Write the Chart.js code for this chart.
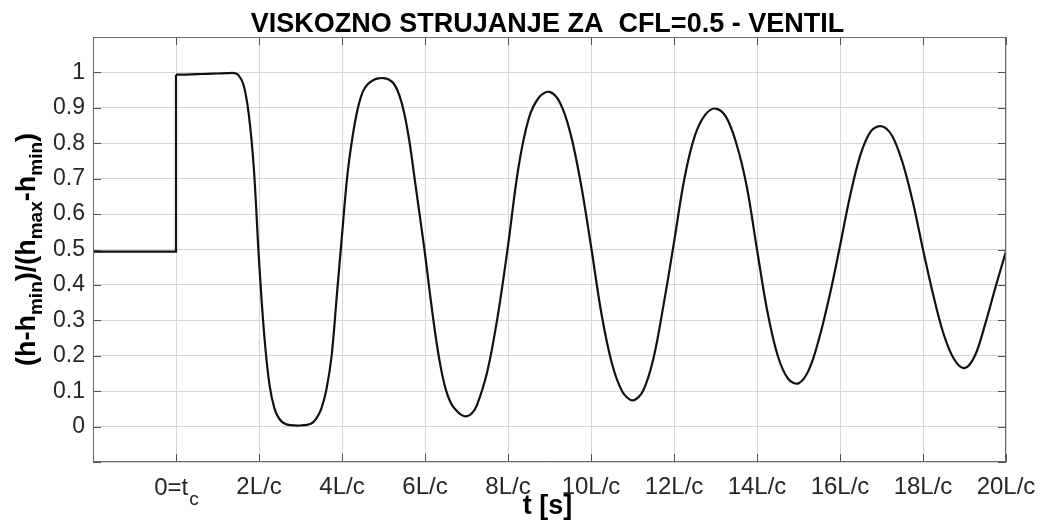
<!DOCTYPE html>
<html>
<head>
<meta charset="utf-8">
<title>Viskozno strujanje - ventil</title>
<script src="https://cdn.jsdelivr.net/npm/chart.js@4.4.1/dist/chart.umd.min.js"></script>
<style>
  html, body { margin: 0; padding: 0; background: #fff; }
</style>
</head>
<body>
<canvas id="graf" width="1040" height="522"></canvas>
<script>
// vrijeme u jedinicama L/c, 0 = trenutak zatvaranja ventila t_c
const tPrije = [-2, 0, 0];
const hPrije = [0.494, 0.494, 0.9935];

const tPoslije = [
  0, 0.25, 0.5, 0.75, 1, 1.25, 1.4, 1.5, 1.625, 1.75,
  1.875, 2, 2.125, 2.25, 2.375, 2.5, 2.625, 2.75, 3, 3.25,
  3.375, 3.5, 3.625, 3.75, 3.875, 4, 4.125, 4.25, 4.375, 4.5,
  4.625, 4.75, 4.875, 5, 5.125, 5.25, 5.375, 5.5, 5.625, 5.75,
  5.875, 6, 6.125, 6.25, 6.375, 6.5, 6.625, 6.75, 6.875, 7,
  7.125, 7.25, 7.5, 7.75, 8, 8.25, 8.5, 8.75, 9, 9.25,
  9.5, 9.75, 10, 10.25, 10.5, 10.75, 11, 11.25, 11.5, 11.75,
  12, 12.25, 12.5, 12.75, 13, 13.25, 13.5, 13.75, 14, 14.25,
  14.5, 14.75, 15, 15.25, 15.5, 15.75, 16, 16.25, 16.5, 16.75,
  17, 17.25, 17.5, 17.75, 18, 18.25, 18.5, 18.75, 19, 19.25,
  19.5, 19.75, 20
];
const hPoslije = [
  0.9935, 0.994, 0.995, 0.996, 0.997, 0.998, 0.998, 0.993, 0.966, 0.885,
  0.73, 0.47, 0.26, 0.12, 0.05, 0.02, 0.008, 0.004, 0.003, 0.008,
  0.022, 0.05, 0.105, 0.2, 0.37, 0.54, 0.705, 0.815, 0.895, 0.945,
  0.967, 0.978, 0.983, 0.984, 0.98, 0.968, 0.938, 0.885, 0.805, 0.7,
  0.595, 0.488, 0.37, 0.26, 0.17, 0.105, 0.066, 0.046, 0.033, 0.029,
  0.037, 0.06, 0.155, 0.31, 0.51, 0.73, 0.87, 0.93, 0.945, 0.915,
  0.83, 0.69, 0.51, 0.32, 0.18, 0.1, 0.074, 0.1, 0.19, 0.345,
  0.52, 0.7, 0.82, 0.88, 0.898, 0.875, 0.8, 0.68, 0.5, 0.325,
  0.2, 0.135, 0.122, 0.16, 0.25, 0.37, 0.51, 0.655, 0.77, 0.835,
  0.848, 0.822, 0.748, 0.637, 0.5, 0.37, 0.26, 0.19, 0.165, 0.2,
  0.29, 0.395, 0.495
];

const xTickVrijednosti = [-2, 0, 2, 4, 6, 8, 10, 12, 14, 16, 18, 20];
const xTickOznake = ['', '', '2L/c', '4L/c', '6L/c', '8L/c', '10L/c', '12L/c', '14L/c', '16L/c', '18L/c', '20L/c'];
const yTickVrijednosti = [-0.1, 0, 0.1, 0.2, 0.3, 0.4, 0.5, 0.6, 0.7, 0.8, 0.9, 1, 1.1];
const yTickOznake = ['', '0', '0.1', '0.2', '0.3', '0.4', '0.5', '0.6', '0.7', '0.8', '0.9', '1', ''];

const naslov = 'VISKOZNO STRUJANJE ZA  CFL=0.5 - VENTIL';
const FONT = '"Liberation Sans", Arial, Helvetica, sans-serif';
const SIVA_MREZA = '#d6d6d6';
const BOJA_TEKSTA = '#262626';

const parovi = (xs, ys) => xs.map((x, i) => ({ x: x, y: ys[i] }));

// okvir, unutarnje crtice, naslov i oznake osi (s indeksima)
const dodaci = {
  id: 'dodaci',
  afterDraw(chart) {
    const { ctx, chartArea: a, scales: { x, y } } = chart;
    ctx.save();

    ctx.strokeStyle = '#505050';
    ctx.lineWidth = 1;
    ctx.beginPath();
    x.ticks.forEach(t => {
      const px = Math.round(x.getPixelForValue(t.value)) + 0.5;
      ctx.moveTo(px, a.bottom); ctx.lineTo(px, a.bottom - 8);
      ctx.moveTo(px, a.top); ctx.lineTo(px, a.top + 8);
    });
    y.ticks.forEach(t => {
      const py = Math.round(y.getPixelForValue(t.value)) + 0.5;
      ctx.moveTo(a.left, py); ctx.lineTo(a.left + 8, py);
      ctx.moveTo(a.right, py); ctx.lineTo(a.right - 8, py);
    });
    ctx.stroke();

    ctx.strokeStyle = '#6a6a6a';
    ctx.strokeRect(Math.round(a.left) + 0.5, Math.round(a.top) + 0.5,
                   Math.round(a.width) - 1, Math.round(a.height) - 1);

    const sredinaX = (a.left + a.right) / 2;
    const sredinaY = (a.top + a.bottom) / 2;

    // naslov
    ctx.fillStyle = '#000';
    ctx.font = 'bold 27px ' + FONT;
    ctx.textAlign = 'center';
    ctx.textBaseline = 'alphabetic';
    ctx.fillText(naslov, sredinaX - 2, 32);

    // oznaka x osi
    ctx.fillText('t [s]', sredinaX - 2, 514);

    // prva oznaka na x osi: 0=t_c
    ctx.fillStyle = BOJA_TEKSTA;
    ctx.textAlign = 'left';
    const px0 = x.getPixelForValue(0);
    ctx.font = '24px ' + FONT;
    const wGlavni = ctx.measureText('0=t').width;
    ctx.font = '19px ' + FONT;
    const wIndeks = ctx.measureText('c').width;
    const lijevo = px0 - (wGlavni + wIndeks) / 2;
    ctx.font = '24px ' + FONT;
    ctx.fillText('0=t', lijevo, 495);
    ctx.font = '19px ' + FONT;
    ctx.fillText('c', lijevo + wGlavni + 1, 505);

    // oznaka y osi: (h-h_min)/(h_max-h_min), zakrenuta
    const dijelovi = [
      ['(h-h', false], ['min', true], [')/(h', false], ['max', true],
      ['-h', false], ['min', true], [')', false]
    ];
    const fGlavni = 'bold 27px ' + FONT;
    const fIndeks = 'bold 19px ' + FONT;
    let ukupno = 0;
    dijelovi.forEach(d => {
      ctx.font = d[1] ? fIndeks : fGlavni;
      d.push(ctx.measureText(d[0]).width);
      ukupno += d[2];
    });
    ctx.translate(35, sredinaY);
    ctx.rotate(-Math.PI / 2);
    ctx.fillStyle = '#000';
    let pos = -ukupno / 2;
    dijelovi.forEach(d => {
      ctx.font = d[1] ? fIndeks : fGlavni;
      ctx.fillText(d[0], pos, d[1] ? 7 : 0);
      pos += d[2];
    });

    ctx.restore();
  }
};

new Chart(document.getElementById('graf'), {
  type: 'line',
  data: {
    datasets: [
      {
        data: parovi(tPrije, hPrije),
        borderColor: '#111',
        borderWidth: 2.2,
        pointRadius: 0,
        tension: 0
      },
      {
        data: parovi(tPoslije, hPoslije),
        borderColor: '#111',
        borderWidth: 2.2,
        pointRadius: 0,
        tension: 0.35
      }
    ]
  },
  options: {
    responsive: false,
    animation: false,
    devicePixelRatio: 1,
    layout: { padding: { top: 37, right: 34, bottom: 0, left: 0 } },
    plugins: {
      legend: { display: false },
      tooltip: { enabled: false },
      title: { display: false }
    },
    scales: {
      x: {
        type: 'linear',
        min: -2,
        max: 20,
        afterBuildTicks: s => { s.ticks = xTickVrijednosti.map(v => ({ value: v })); },
        afterFit: s => { s.height = 60; s.paddingLeft = 0; s.paddingRight = 0; },
        grid: { color: SIVA_MREZA, drawTicks: false, lineWidth: 1 },
        border: { display: false },
        ticks: {
          padding: 11,
          color: BOJA_TEKSTA,
          font: { family: FONT, size: 24 },
          maxRotation: 0,
          autoSkip: false,
          callback: (v, i) => xTickOznake[i]
        }
      },
      y: {
        type: 'linear',
        min: -0.1,
        max: 1.1,
        afterBuildTicks: s => { s.ticks = yTickVrijednosti.map(v => ({ value: v })); },
        afterFit: s => { s.width = 93; s.paddingTop = 0; s.paddingBottom = 0; },
        grid: { color: SIVA_MREZA, drawTicks: false, lineWidth: 1 },
        border: { display: false },
        ticks: {
          padding: 8,
          color: BOJA_TEKSTA,
          font: { family: FONT, size: 23 },
          autoSkip: false,
          callback: (v, i) => yTickOznake[i]
        }
      }
    }
  },
  plugins: [dodaci]
});
</script>
</body>
</html>
